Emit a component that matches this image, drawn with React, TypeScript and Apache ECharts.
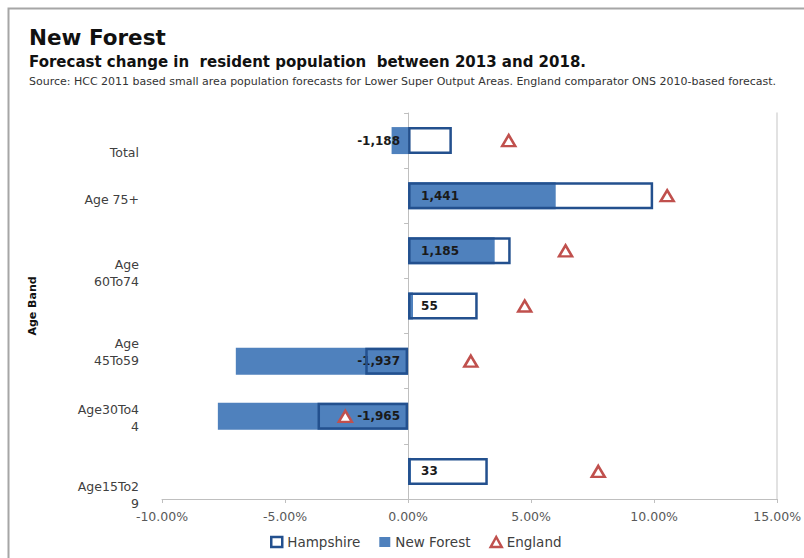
import React, { useEffect, useRef } from "react";
import * as echarts from "echarts";

// Age bands, top to bottom (line breaks as printed beside the axis)
const ageBands = ["Total", "Age 75+", "Age\n60To74", "", "Age\n45To59", "Age30To4\n4", "Age15To2\n9"];

// Percentage change 2013-2018
const hampshirePct = [1.78, 9.96, 4.17, 2.83, -1.74, -3.68, 3.24];
const newForestPct = [-0.67, 6.0, 3.52, 0.2, -7.0, -7.73, 0.12];
const englandPct = [4.09, 10.53, 6.4, 4.74, 2.55, -2.55, 7.73];

// New Forest change in residents (persons)
const newForestChange = [-1188, 1441, 1185, 55, -1937, -1965, 33];

// Value axis ticks (%)
const xTicks = [-10, -5, 0, 5, 10, 15];

// Vertical nudge of each category label (px, + = down)
const labelShift = [12, 4, 22, 0, -9, 2, 24];

const FONT = "DejaVu Sans";
const DARK_BLUE = "#23508e";
const MID_BLUE = "#4f81bd";
const RED = "#c0504d";
const AXIS_GREY = "#bfbfbf";
const TEXT_GREY = "#404040";
const GRID_LEFT = 162;

const frame = {
  id: "frame",
  type: "rect",
  shape: { x: 8.5, y: 8.5, width: 820, height: 580 },
  style: { fill: "none", stroke: "#a6a6a6", lineWidth: 2 },
  silent: true,
};

export default function App() {
  const ref = useRef<HTMLDivElement>(null);

  useEffect(() => {
    if (!ref.current) return;
    const chart = echarts.init(ref.current, null, { renderer: "svg" });

    chart.setOption({
      animation: false,
      backgroundColor: "#ffffff",
      textStyle: { fontFamily: FONT },
      title: [
        {
          text: "New Forest",
          left: 24,
          top: 21,
          textStyle: { fontFamily: FONT, fontSize: 21.5, fontWeight: "bold", color: "#111" },
        },
        {
          text: "Forecast change in  resident population  between 2013 and 2018.",
          left: 24,
          top: 49,
          textStyle: { fontFamily: FONT, fontSize: 15, fontWeight: "bold", color: "#111" },
        },
        {
          text: "Source: HCC 2011 based small area population forecasts for Lower Super Output Areas. England comparator ONS 2010-based forecast.",
          left: 24,
          top: 71,
          textStyle: { fontFamily: FONT, fontSize: 11, fontWeight: "normal", color: "#333" },
        },
      ],
      graphic: [frame],
      legend: {
        top: 530,
        left: 265,
        itemWidth: 11,
        itemHeight: 10,
        itemGap: 19,
        textStyle: { fontFamily: FONT, fontSize: 13.5, color: TEXT_GREY },
        data: [
          {
            name: "Hampshire",
            icon: "rect",
            itemStyle: { color: "#ffffff", borderColor: DARK_BLUE, borderWidth: 2.5 },
          },
          { name: "New Forest", icon: "rect", itemStyle: { color: MID_BLUE } },
          {
            name: "England",
            icon: "triangle",
            itemStyle: { color: "#ffffff", borderColor: RED, borderWidth: 2.5 },
          },
        ],
      },
      grid: { left: GRID_LEFT, right: 25, top: 113, bottom: 59, containLabel: false },
      xAxis: {
        type: "value",
        min: xTicks[0],
        max: xTicks[xTicks.length - 1],
        interval: 5,
        axisLine: { show: true, onZero: false, lineStyle: { color: AXIS_GREY } },
        axisTick: { show: true, length: 4, lineStyle: { color: AXIS_GREY } },
        splitLine: { show: false },
        axisLabel: {
          margin: 11,
          fontFamily: FONT,
          fontSize: 12.5,
          color: "#595959",
          formatter: (v: number) => `${v.toFixed(2)}%`,
        },
      },
      yAxis: [
        {
          // carries the series and the axis title
          type: "category",
          inverse: true,
          position: "left",
          data: ageBands,
          axisLine: { show: false, onZero: false },
          axisTick: { show: false },
          axisLabel: { show: false },
          name: "Age Band",
          nameLocation: "middle",
          nameRotate: 90,
          nameGap: 124,
          nameTextStyle: { fontFamily: FONT, fontSize: 11, fontWeight: "bold", color: "#111" },
        },
        {
          // zero line with category boundary ticks
          type: "category",
          inverse: true,
          position: "left",
          data: ageBands,
          axisLine: { show: true, onZero: false, lineStyle: { color: AXIS_GREY } },
          axisTick: { show: true, length: 4, lineStyle: { color: AXIS_GREY } },
          axisLabel: { show: false },
        },
        {
          // plot area right edge
          type: "category",
          inverse: true,
          position: "right",
          data: ageBands,
          axisLine: { show: true, onZero: false, lineStyle: { color: "#d9d9d9", width: 1.5 } },
          axisTick: { show: false },
          axisLabel: { show: false },
        },
      ],
      series: [
        {
          name: "Hampshire",
          type: "bar",
          yAxisIndex: 0,
          z: 3,
          barWidth: 27,
          barGap: "-100%",
          data: hampshirePct,
          itemStyle: { color: "rgba(255,255,255,0)", borderColor: DARK_BLUE, borderWidth: 2.5 },
        },
        {
          name: "New Forest",
          type: "bar",
          yAxisIndex: 0,
          z: 2,
          barWidth: 27,
          barGap: "-100%",
          data: newForestPct.map((v, i) => ({
            value: v,
            label: {
              position: newForestChange[i] < 0 ? "insideRight" : "insideLeft",
              distance: newForestChange[i] < 0 ? 8 : 13,
            },
          })),
          itemStyle: { color: MID_BLUE },
          label: {
            show: true,
            fontFamily: FONT,
            fontSize: 12,
            fontWeight: "bold",
            color: "#1a1a1a",
            formatter: (p: any) => newForestChange[p.dataIndex].toLocaleString("en-US"),
          },
        },
        {
          name: "England",
          type: "scatter",
          yAxisIndex: 0,
          z: 4,
          symbol: "triangle",
          symbolSize: [13, 11],
          data: englandPct.map((v, i) => [v, i]),
          itemStyle: { color: "#ffffff", borderColor: RED, borderWidth: 2.5, opacity: 1 },
        },
      ],
    });

    // Move the boundary-tick axis onto the 0% position of the value axis
    const zeroX = chart.convertToPixel({ xAxisIndex: 0 }, 0) as number;
    const leftX = chart.convertToPixel({ xAxisIndex: 0 }, xTicks[0]) as number;

    // Category labels, placed from the category axis scale
    const labels = ageBands.map((name, i) => ({
      id: `band-${i}`,
      type: "text",
      x: leftX - 23,
      y: (chart.convertToPixel({ yAxisIndex: 0 }, i) as number) + labelShift[i],
      silent: true,
      style: {
        text: name,
        align: "right",
        verticalAlign: "middle",
        lineHeight: 17,
        font: `12.5px "${FONT}"`,
        fill: TEXT_GREY,
      },
    }));

    chart.setOption({
      yAxis: [{}, { offset: leftX - zeroX }, {}],
      graphic: [frame, ...labels],
    });

    return () => chart.dispose();
  }, []);

  return (
    <div
      ref={ref}
      style={{ position: "fixed", left: 0, top: 0, width: 804, height: 558 }}
    />
  );
}
